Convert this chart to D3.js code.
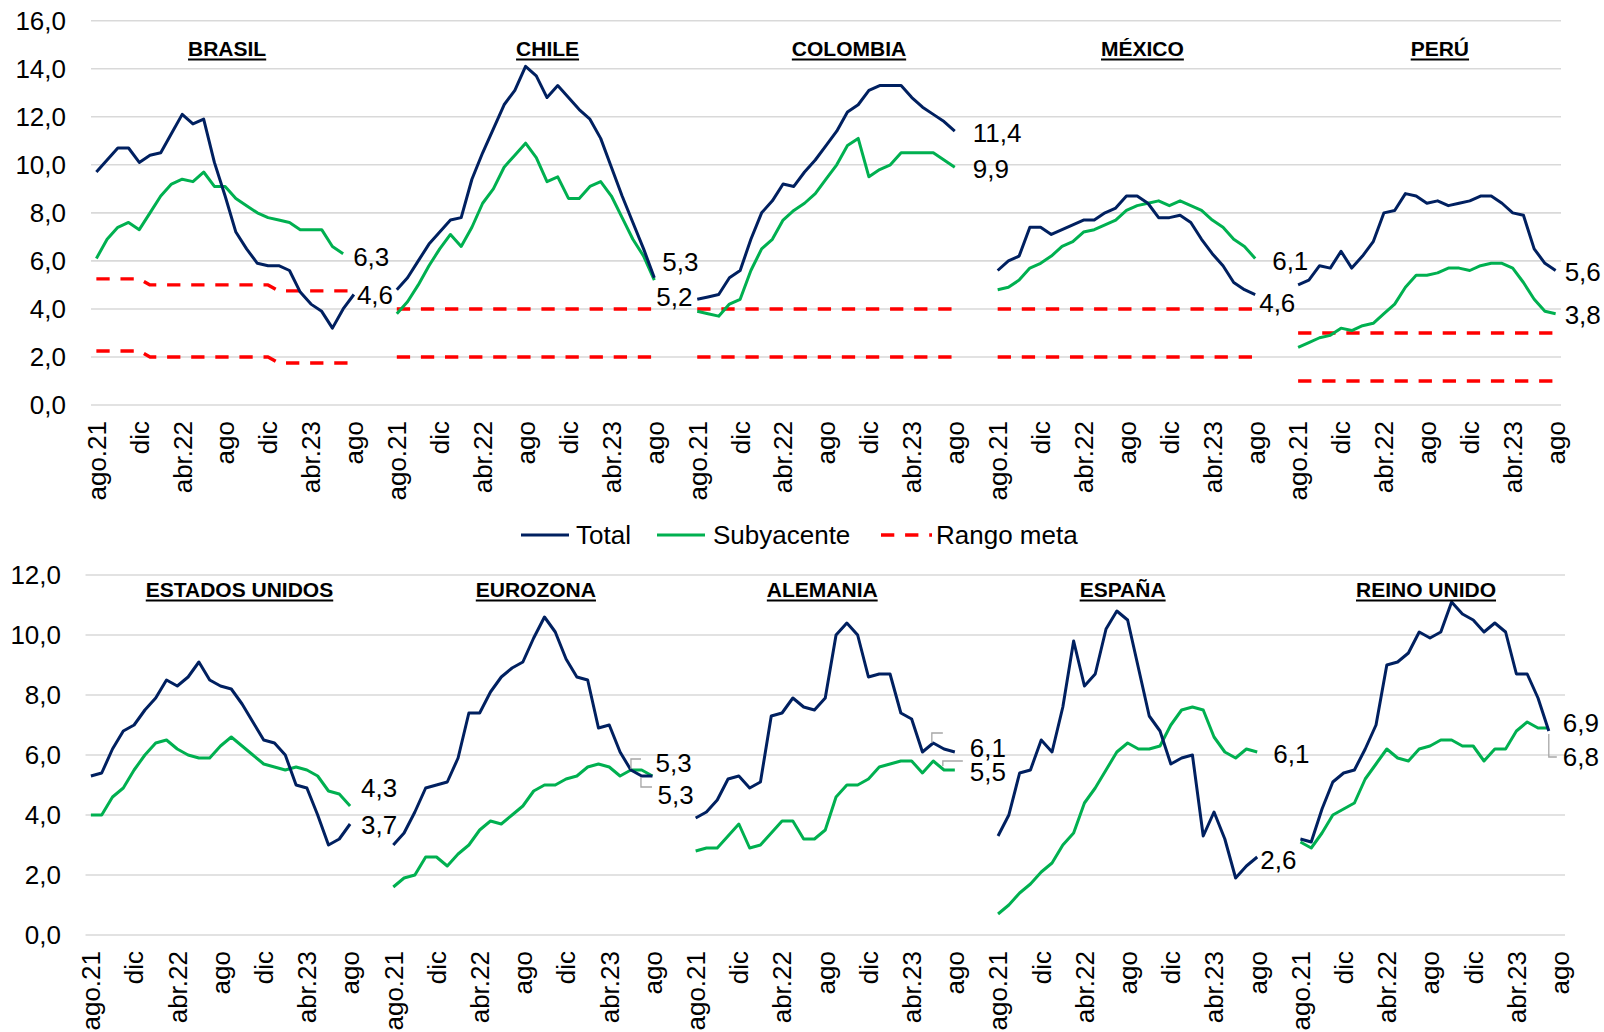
<!DOCTYPE html>
<html>
<head>
<meta charset="utf-8">
<script src="https://cdn.jsdelivr.net/npm/d3@7"></script>
<style>
  html, body { margin: 0; padding: 0; background: #ffffff; }
  svg { display: block; font-family: "Liberation Sans", Arial, Helvetica, sans-serif; }
</style>
</head>
<body>
<svg id="chart" width="1604" height="1032"></svg>
<script>
// ---------------------------------------------------------------------------
// Inflation, % y/y, monthly from ago.21 to ago.23 (25 months per country)
// ---------------------------------------------------------------------------
const tickLabels = ["ago.21", "dic", "abr.22", "ago", "dic", "abr.23", "ago"];
const seriesNames = ["Total", "Subyacente", "Rango meta"];

// Latin America
const brasilTotal = [9.7, 10.2, 10.7, 10.7, 10.1, 10.4, 10.5, 11.3, 12.1, 11.7, 11.9, 10.1, 8.7, 7.2, 6.5, 5.9, 5.8, 5.8, 5.6, 4.7, 4.2, 3.9, 3.2, 4.0, 4.6];
const brasilCore  = [6.1, 6.9, 7.4, 7.6, 7.3, 8.0, 8.7, 9.2, 9.4, 9.3, 9.7, 9.1, 9.1, 8.6, 8.3, 8.0, 7.8, 7.7, 7.6, 7.3, 7.3, 7.3, 6.6, 6.3];
const brasilMetaSup = [5.25, 5.25, 5.25, 5.25, 5.25, 5, 5, 5, 5, 5, 5, 5, 5, 5, 5, 5, 5, 4.75, 4.75, 4.75, 4.75, 4.75, 4.75, 4.75, 4.75];
const brasilMetaInf = [2.25, 2.25, 2.25, 2.25, 2.25, 2, 2, 2, 2, 2, 2, 2, 2, 2, 2, 2, 2, 1.75, 1.75, 1.75, 1.75, 1.75, 1.75, 1.75, 1.75];

const chileTotal = [4.8, 5.3, 6.0, 6.7, 7.2, 7.7, 7.8, 9.4, 10.5, 11.5, 12.5, 13.1, 14.1, 13.7, 12.8, 13.3, 12.8, 12.3, 11.9, 11.1, 9.9, 8.7, 7.6, 6.5, 5.3];
const chileCore  = [3.8, 4.3, 5.0, 5.8, 6.5, 7.1, 6.6, 7.4, 8.4, 9.0, 9.9, 10.4, 10.9, 10.3, 9.3, 9.5, 8.6, 8.6, 9.1, 9.3, 8.7, 7.8, 6.9, 6.2, 5.2];
const chileMeta  = [2, 4];

const colombiaTotal = [4.4, 4.5, 4.6, 5.3, 5.6, 6.9, 8.0, 8.5, 9.2, 9.1, 9.7, 10.2, 10.8, 11.4, 12.2, 12.5, 13.1, 13.3, 13.3, 13.3, 12.8, 12.4, 12.1, 11.8, 11.4];
const colombiaCore  = [3.9, 3.8, 3.7, 4.2, 4.4, 5.6, 6.5, 6.9, 7.7, 8.1, 8.4, 8.8, 9.4, 10.0, 10.8, 11.1, 9.5, 9.8, 10.0, 10.5, 10.5, 10.5, 10.5, 10.2, 9.9];
const colombiaMeta  = [2, 4];

const mexicoTotal = [5.6, 6.0, 6.2, 7.4, 7.4, 7.1, 7.3, 7.5, 7.7, 7.7, 8.0, 8.2, 8.7, 8.7, 8.4, 7.8, 7.8, 7.9, 7.6, 6.9, 6.3, 5.8, 5.1, 4.8, 4.6];
const mexicoCore  = [4.8, 4.9, 5.2, 5.7, 5.9, 6.2, 6.6, 6.8, 7.2, 7.3, 7.5, 7.7, 8.1, 8.3, 8.4, 8.5, 8.3, 8.5, 8.3, 8.1, 7.7, 7.4, 6.9, 6.6, 6.1];
const mexicoMeta  = [2, 4];

const peruTotal = [5.0, 5.2, 5.8, 5.7, 6.4, 5.7, 6.2, 6.8, 8.0, 8.1, 8.8, 8.7, 8.4, 8.5, 8.3, 8.4, 8.5, 8.7, 8.7, 8.4, 8.0, 7.9, 6.5, 5.9, 5.6];
const peruCore  = [2.4, 2.6, 2.8, 2.9, 3.2, 3.1, 3.3, 3.4, 3.8, 4.2, 4.9, 5.4, 5.4, 5.5, 5.7, 5.7, 5.6, 5.8, 5.9, 5.9, 5.7, 5.1, 4.4, 3.9, 3.8];
const peruMeta  = [1, 3];

// Advanced economies
const euaTotal = [5.3, 5.4, 6.2, 6.8, 7.0, 7.5, 7.9, 8.5, 8.3, 8.6, 9.1, 8.5, 8.3, 8.2, 7.7, 7.1, 6.5, 6.4, 6.0, 5.0, 4.9, 4.0, 3.0, 3.2, 3.7];
const euaCore  = [4.0, 4.0, 4.6, 4.9, 5.5, 6.0, 6.4, 6.5, 6.2, 6.0, 5.9, 5.9, 6.3, 6.6, 6.3, 6.0, 5.7, 5.6, 5.5, 5.6, 5.5, 5.3, 4.8, 4.7, 4.3];

const eurozonaTotal = [3.0, 3.4, 4.1, 4.9, 5.0, 5.1, 5.9, 7.4, 7.4, 8.1, 8.6, 8.9, 9.1, 9.9, 10.6, 10.1, 9.2, 8.6, 8.5, 6.9, 7.0, 6.1, 5.5, 5.3, 5.3];
const eurozonaCore  = [1.6, 1.9, 2.0, 2.6, 2.6, 2.3, 2.7, 3.0, 3.5, 3.8, 3.7, 4.0, 4.3, 4.8, 5.0, 5.0, 5.2, 5.3, 5.6, 5.7, 5.6, 5.3, 5.5, 5.5, 5.3];

const alemaniaTotal = [3.9, 4.1, 4.5, 5.2, 5.3, 4.9, 5.1, 7.3, 7.4, 7.9, 7.6, 7.5, 7.9, 10.0, 10.4, 10.0, 8.6, 8.7, 8.7, 7.4, 7.2, 6.1, 6.4, 6.2, 6.1];
const alemaniaCore  = [2.8, 2.9, 2.9, 3.3, 3.7, 2.9, 3.0, 3.4, 3.8, 3.8, 3.2, 3.2, 3.5, 4.6, 5.0, 5.0, 5.2, 5.6, 5.7, 5.8, 5.8, 5.4, 5.8, 5.5, 5.5];

const espanaTotal = [3.3, 4.0, 5.4, 5.5, 6.5, 6.1, 7.6, 9.8, 8.3, 8.7, 10.2, 10.8, 10.5, 8.9, 7.3, 6.8, 5.7, 5.9, 6.0, 3.3, 4.1, 3.2, 1.9, 2.3, 2.6];
const espanaCore  = [0.7, 1.0, 1.4, 1.7, 2.1, 2.4, 3.0, 3.4, 4.4, 4.9, 5.5, 6.1, 6.4, 6.2, 6.2, 6.3, 7.0, 7.5, 7.6, 7.5, 6.6, 6.1, 5.9, 6.2, 6.1];

const reinoUnidoTotal = [3.2, 3.1, 4.2, 5.1, 5.4, 5.5, 6.2, 7.0, 9.0, 9.1, 9.4, 10.1, 9.9, 10.1, 11.1, 10.7, 10.5, 10.1, 10.4, 10.1, 8.7, 8.7, 7.9, 6.8];
const reinoUnidoCore  = [3.1, 2.9, 3.4, 4.0, 4.2, 4.4, 5.2, 5.7, 6.2, 5.9, 5.8, 6.2, 6.3, 6.5, 6.5, 6.3, 6.3, 5.8, 6.2, 6.2, 6.8, 7.1, 6.9, 6.9];

// ---------------------------------------------------------------------------
// Layout
// ---------------------------------------------------------------------------
const MONTHS = 25;          // months per panel
const STRIDE = 28;          // months + 3 empty categories between panels
const N_CAT = 5 * MONTHS + 4 * (STRIDE - MONTHS);

const COLORS = { total: "#002060", core: "#00B050", meta: "#FF0000", grid: "#D9D9D9", text: "#000000" };
const FONT = 26;
const fmt = v => d3.format(".1f")(v).replace(".", ",");

const svg = d3.select("#chart");

// Target band as a per-month series (Brasil) or a constant pair [inf, sup]
function metaSeries(meta) {
  if (!meta) return [];
  if (meta.sup) return [meta.inf, meta.sup];
  return [[{ j: 0, v: meta[0] }, { j: MONTHS - 1, v: meta[0] }],
          [{ j: 0, v: meta[1] }, { j: MONTHS - 1, v: meta[1] }]];
}

const topPanels = [
  { name: "BRASIL",   total: brasilTotal,   core: brasilCore,   meta: { inf: brasilMetaInf.map((v, j) => ({ j, v })), sup: brasilMetaSup.map((v, j) => ({ j, v })) },
    titleDx: 2,
    labels: [{ s: "core", dx: 10, dy: 3 }, { s: "total", dx: 3, dy: 0 }] },
  { name: "CHILE",    total: chileTotal,    core: chileCore,    meta: chileMeta, titleDx: 22,
    labels: [{ s: "total", dx: 8, dy: -16 }, { s: "core", dx: 2, dy: 17 }] },
  { name: "COLOMBIA", total: colombiaTotal, core: colombiaCore, meta: colombiaMeta, titleDx: 23,
    labels: [{ s: "total", dx: 18, dy: 1 }, { s: "core", dx: 18, dy: 1 }] },
  { name: "MÉXICO",   total: mexicoTotal,   core: mexicoCore,   meta: mexicoMeta, titleDx: 16,
    labels: [{ s: "core", dx: 17, dy: 2 }, { s: "total", dx: 4, dy: 8 }] },
  { name: "PERÚ",     total: peruTotal,     core: peruCore,     meta: peruMeta, titleDx: 13,
    labels: [{ s: "total", dx: 9, dy: 1 }, { s: "core", dx: 9, dy: 1 }] }
];

const bottomPanels = [
  { name: "ESTADOS UNIDOS", total: euaTotal, core: euaCore, titleDx: 19,
    labels: [{ s: "core", dx: 11, dy: -18 }, { s: "total", dx: 11, dy: 1 }] },
  { name: "EUROZONA", total: eurozonaTotal, core: eurozonaCore, titleDx: 13,
    labels: [{ s: "core", dx: 3, dy: -13, leader: [[-11.5, -17], [-21.5, -17], [-21.5, -7]] },
             { s: "total", dx: 5, dy: 19, leader: [[-11.5, 1], [-11.5, 11], [-0.5, 11]] }] },
  { name: "ALEMANIA", total: alemaniaTotal, core: alemaniaCore, titleDx: -3,
    labels: [{ s: "total", dx: 15, dy: -4, leader: [[-23, -9], [-23, -19], [-12, -19]] },
             { s: "core", dx: 15, dy: 2, leader: [[-12, -4], [-12, -9], [8, -9]] }] },
  { name: "ESPAÑA", total: espanaTotal, core: espanaCore, titleDx: -5,
    labels: [{ s: "core", dx: 16, dy: 2 }, { s: "total", dx: 3, dy: 3 }] },
  { name: "REINO UNIDO", total: reinoUnidoTotal, core: reinoUnidoCore, titleDx: -4,
    labels: [{ s: "core", dx: 14, dy: -5 }, { s: "total", dx: 14, dy: 26, leader: [[0, 3], [0, 26], [8, 26]] }] }
];

function drawChart(cfg) {
  const g = svg.append("g");
  const x = d3.scaleBand().domain(d3.range(N_CAT)).range([cfg.left, cfg.right]).padding(0);
  const cx = (p, j) => x(p * STRIDE + j) + x.bandwidth() / 2;
  const y = d3.scaleLinear().domain([0, cfg.yMax]).range([cfg.y0, cfg.yTop]);
  const yTicks = d3.range(0, cfg.yMax + 0.001, 2);

  // horizontal gridlines
  g.append("g").selectAll("line").data(yTicks).join("line")
    .attr("x1", cfg.left).attr("x2", cfg.right)
    .attr("y1", d => y(d)).attr("y2", d => y(d))
    .attr("stroke", COLORS.grid).attr("stroke-width", 1.6);

  // value axis
  const yAxis = g.append("g").attr("transform", `translate(${cfg.left},0)`)
    .call(d3.axisLeft(y).tickValues(yTicks).tickFormat(fmt).tickSize(0).tickPadding(cfg.left - cfg.yLabelRight));
  yAxis.select(".domain").remove();
  yAxis.selectAll("text").attr("font-size", FONT).attr("font-family", null).attr("fill", COLORS.text);

  // category axis: one label every four months under each panel
  const tickIdx = [];
  for (let p = 0; p < 5; p++) tickLabels.forEach((t, i) => tickIdx.push(p * STRIDE + i * 4));
  const xAxis = g.append("g").attr("transform", `translate(0,${cfg.y0})`)
    .call(d3.axisBottom(x).tickValues(tickIdx).tickFormat(k => tickLabels[(k % STRIDE) / 4]).tickSize(0));
  xAxis.select(".domain").remove();
  xAxis.selectAll("text")
    .attr("font-size", FONT).attr("fill", COLORS.text)
    .attr("transform", "rotate(-90)")
    .attr("text-anchor", "end")
    .attr("x", -cfg.xLabelGap).attr("y", 0).attr("dy", "0.36em");

  const line = p => d3.line().x((d, j) => cx(p, j)).y(d => y(d)).curve(d3.curveLinear);
  const lineJ = p => d3.line().x(d => cx(p, d.j)).y(d => y(d.v));

  cfg.panels.forEach((panel, p) => {
    const pg = g.append("g");

    // target band
    metaSeries(panel.meta).forEach(ser => {
      pg.append("path").attr("d", lineJ(p)(ser))
        .attr("fill", "none").attr("stroke", COLORS.meta).attr("stroke-width", 3.4)
        .attr("stroke-dasharray", "13.3,10.8").attr("stroke-linejoin", "round");
    });

    // core and headline inflation
    pg.append("path").attr("d", line(p)(panel.core))
      .attr("fill", "none").attr("stroke", COLORS.core).attr("stroke-width", 3)
      .attr("stroke-linejoin", "round");
    pg.append("path").attr("d", line(p)(panel.total))
      .attr("fill", "none").attr("stroke", COLORS.total).attr("stroke-width", 3)
      .attr("stroke-linejoin", "round");

    // end-of-series value labels
    panel.labels.forEach(lb => {
      const arr = panel[lb.s];
      const j = arr.length - 1;
      const px = cx(p, j), py = y(arr[j]);
      if (lb.leader) {
        pg.append("polyline")
          .attr("points", lb.leader.map(([a, b]) => `${px + a},${py + b}`).join(" "))
          .attr("fill", "none").attr("stroke", "#A6A6A6").attr("stroke-width", 1.3);
      }
      pg.append("text").attr("x", px + lb.dx).attr("y", py + lb.dy).attr("dy", "0.36em")
        .attr("font-size", FONT).attr("fill", COLORS.text).text(fmt(arr[j]));
    });

    // panel title, bold and underlined
    const tx = cx(p, 12) + panel.titleDx;
    const title = pg.append("text").attr("x", tx).attr("y", cfg.titleY)
      .attr("text-anchor", "middle").attr("font-size", 21).attr("font-weight", "bold")
      .attr("fill", COLORS.text).text(panel.name);
    const tw = title.node().getComputedTextLength();
    pg.append("rect").attr("x", tx - tw / 2).attr("y", cfg.titleY + 2.5)
      .attr("width", tw).attr("height", 2).attr("fill", COLORS.text);
  });
}

drawChart({ panels: topPanels, left: 91, right: 1561, y0: 405, yTop: 20.7, yMax: 16,
            yLabelRight: 66, xLabelGap: 16, titleY: 56 });
drawChart({ panels: bottomPanels, left: 85.5, right: 1565, y0: 935, yTop: 575, yMax: 12,
            yLabelRight: 61, xLabelGap: 16, titleY: 597 });

// legend
const legend = svg.append("g").attr("transform", "translate(0,535)");
const legendItems = [
  { name: seriesNames[0], color: COLORS.total, x1: 521, x2: 569, tx: 576 },
  { name: seriesNames[1], color: COLORS.core,  x1: 657, x2: 705, tx: 713 },
  { name: seriesNames[2], color: COLORS.meta,  x1: 881, x2: 932, tx: 936, dash: "13.3,10.8" }
];
legendItems.forEach(it => {
  legend.append("line").attr("x1", it.x1).attr("x2", it.x2).attr("y1", 0).attr("y2", 0)
    .attr("stroke", it.color).attr("stroke-width", it.dash ? 3.4 : 3)
    .attr("stroke-dasharray", it.dash || null);
  legend.append("text").attr("x", it.tx).attr("y", 0).attr("dy", "0.36em")
    .attr("font-size", FONT).attr("fill", COLORS.text).text(it.name);
});
</script>
</body>
</html>
